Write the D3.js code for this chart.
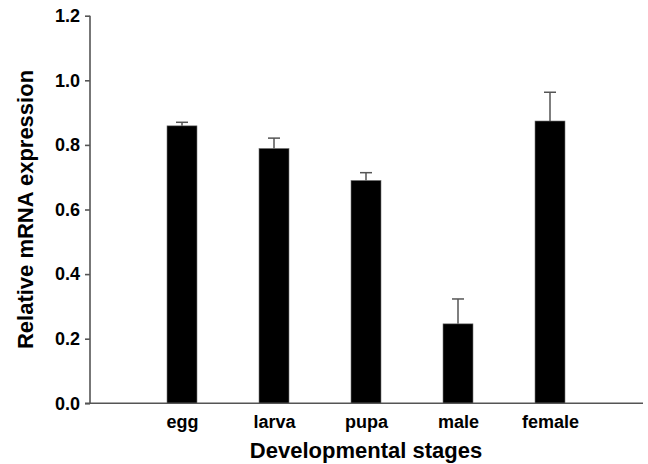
<!DOCTYPE html>
<html>
<head>
<meta charset="utf-8">
<script src="https://cdn.jsdelivr.net/npm/d3@7"></script>
<style>
  body { margin: 0; background: #fff; }
  svg { display: block; font-family: Arial, "Liberation Sans", sans-serif; font-weight: bold; }
</style>
</head>
<body>
<svg id="chart" width="648" height="464"></svg>
<script>
// stages and mean expression
const stages = ["egg", "larva", "pupa", "male", "female"];
const means = [0.859, 0.789, 0.690, 0.246, 0.874];
const errors = [0.011, 0.032, 0.024, 0.077, 0.089];
const yTicks = [0, 0.2, 0.4, 0.6, 0.8, 1.0, 1.2];

const width = 648, height = 464;
const margin = { top: 15.7, right: 6, bottom: 60.7, left: 90 };

const svg = d3.select("#chart");

const x = d3.scalePoint()
  .domain(stages)
  .range([margin.left, width - margin.right])
  .padding(1);

const y = d3.scaleLinear()
  .domain([0, 1.2])
  .range([height - margin.bottom, margin.top]);

const barW = 30;
const capW = 12;
const axisColor = "#555";

// bars
svg.append("g")
  .selectAll("rect")
  .data(stages)
  .join("rect")
  .attr("x", d => x(d) - barW / 2)
  .attr("y", (d, i) => y(means[i]))
  .attr("width", barW)
  .attr("height", (d, i) => y(0) - y(means[i]))
  .attr("fill", "#000")
  .attr("stroke", "#777")
  .attr("stroke-width", 0.6);

// error bars (upper only)
const err = svg.append("g")
  .attr("stroke", "#555")
  .attr("stroke-width", 1.5);

err.selectAll("line.v")
  .data(stages)
  .join("line")
  .attr("class", "v")
  .attr("x1", d => x(d))
  .attr("x2", d => x(d))
  .attr("y1", (d, i) => y(means[i]))
  .attr("y2", (d, i) => y(means[i] + errors[i]));

err.selectAll("line.cap")
  .data(stages)
  .join("line")
  .attr("class", "cap")
  .attr("x1", d => x(d) - capW / 2)
  .attr("x2", d => x(d) + capW / 2)
  .attr("y1", (d, i) => y(means[i] + errors[i]))
  .attr("y2", (d, i) => y(means[i] + errors[i]));

// y axis
const yAxis = svg.append("g")
  .attr("transform", `translate(${margin.left},0)`)
  .call(d3.axisLeft(y).tickValues(yTicks).tickFormat(d3.format(".1f")).tickSize(5).tickPadding(5));
yAxis.select(".domain").attr("stroke", axisColor).attr("stroke-width", 1.6).attr("d", `M0,${y(1.2)}V${y(0)}`);
yAxis.selectAll(".tick line").attr("stroke", axisColor).attr("stroke-width", 1.6);
yAxis.selectAll(".tick text")
  .attr("font-size", 18)
  .attr("font-weight", "bold")
  .attr("font-family", "Arial, 'Liberation Sans', sans-serif")
  .attr("fill", "#000");

// x axis
const xAxis = svg.append("g")
  .attr("transform", `translate(0,${y(0)})`)
  .call(d3.axisBottom(x).tickSize(0).tickPadding(10));
xAxis.select(".domain").attr("stroke", axisColor).attr("stroke-width", 1.6)
  .attr("d", `M${margin.left - 5},0H${width - 5}`);
xAxis.selectAll(".tick text")
  .attr("font-size", 18)
  .attr("font-weight", "bold")
  .attr("font-family", "Arial, 'Liberation Sans', sans-serif")
  .attr("fill", "#000")
  .attr("dy", "0.8em");

// axis titles
svg.append("text")
  .attr("x", (margin.left + width - margin.right) / 2)
  .attr("y", 457.5)
  .attr("text-anchor", "middle")
  .attr("font-size", 22)
  .text("Developmental stages");

svg.append("text")
  .attr("transform", `translate(33,${(y(0) + y(1.2)) / 2}) rotate(-90)`)
  .attr("text-anchor", "middle")
  .attr("font-size", 22)
  .text("Relative mRNA expression");
</script>
</body>
</html>
